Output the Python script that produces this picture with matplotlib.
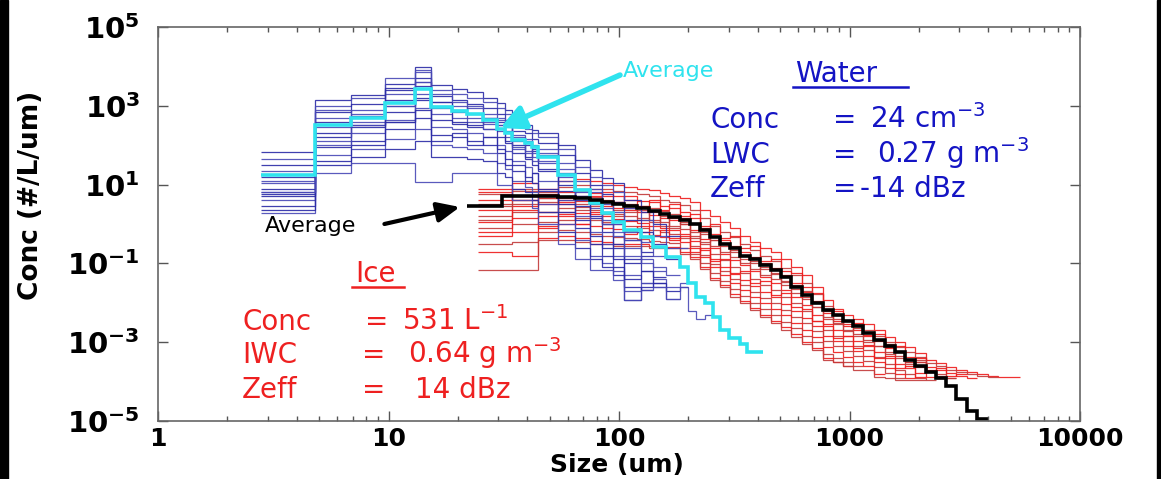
import numpy as np
import matplotlib
matplotlib.use("Agg")
import matplotlib.pyplot as plt
from matplotlib.ticker import FixedLocator, FuncFormatter, LogLocator, NullLocator, NullFormatter
from matplotlib.lines import Line2D
from matplotlib.patches import Rectangle

plt.rcParams['font.family'] = ['DejaVu Sans']
plt.rcParams['mathtext.fontset'] = 'dejavusans'

# ---------------- data (log10 of concentration, #/L/um) ----------------
# water (blue) size-bin edges, um
W_EDGES = [2.8, 4.8, 6.9, 9.7, 13.0, 15.3, 18.9, 21.9, 25.7, 29.5, 32.0, 34.5, 39.0,
           42.0, 44.5, 54.5, 64.5, 74.5, 84.5, 94.5, 105, 125, 140, 160, 184, 200,
           215, 235, 255, 275, 300, 335, 360, 422]
W_AVG = [1.25, 2.5, 2.68, 3.07, 3.43, 2.97, 2.86, 2.8, 2.64, 2.4, 2.3, 2.13, 2.05, 1.95,
         1.7, 1.24, 0.86, 0.53, 0.28, 0.05, -0.15, -0.33, -0.58, -0.83, -1.1, -1.5,
         -1.85, -2.0, -2.36, -2.69, -2.9, -3.05, -3.25]
W01 = [1.83, 3.15, 3.27, 3.55, 3.98, 3.53, 3.43, 3.35, 3.20, 3.07, 2.90, 2.56, 2.50, 2.38, 2.30, 2.00, 1.62, 1.37, 1.17, 1.03, 0.60, 0.30, 0.00, -0.30]
W02 = [1.65, 3.0, 3.2, 3.70, 3.85, 3.4, 3.3, 3.2, 3.1, 2.95, 2.8, 2.45, 2.4, 2.3, 2.2, 1.9, 1.45, 1.2, 1.0, 0.8, 0.4, 0.1, -0.3, -0.6, -0.6]
W03 = [1.5, 2.85, 3.05, 3.45, 3.7, 3.25, 3.15, 3.05, 2.95, 2.8, 2.65, 2.35, 2.3, 2.15, 2.05, 1.75, 1.3, 1.0, 0.75, 0.55, 0.1, -0.2, -0.5, -0.9]
W04 = [1.35, 2.7, 2.9, 3.3, 3.6, 3.1, 3.0, 2.95, 2.8, 2.65, 2.5, 2.25, 2.15, 2.0, 1.9, 1.55, 1.1, 0.8, 0.5, 0.3, -0.2, -0.45, -0.8]
W05 = [1.2, 2.6, 2.75, 3.15, 3.5, 2.95, 2.85, 2.8, 2.7, 2.5, 2.35, 2.1, 2.0, 1.85, 1.75, 1.3, 0.9, 0.6, 0.3, 0.1, -0.4, -0.7]
W06 = [1.05, 2.45, 2.6, 3.0, 3.3, 2.8, 2.7, 2.6, 2.55, 2.35, 2.2, 1.95, 1.85, 1.7, 1.55, 1.1, 0.7, 0.4, 0.1, -0.2, -0.6, -0.9, -1.1, -1.3]
W07 = [0.9, 2.3, 2.45, 2.85, 3.15, 2.65, 2.55, 2.45, 2.4, 2.2, 2.05, 1.8, 1.65, 1.5, 1.35, 0.85, 0.45, 0.15, -0.2, -0.5, -0.9, -1.2, -1.35]
W08 = [0.8, 2.1, 2.3, 2.65, 2.95, 2.45, 2.4, 2.3, 2.2, 2.0, 1.85, 1.6, 1.45, 1.3, 1.1, 0.6, 0.2, -0.2, -0.5, -0.8, -1.3, -1.5, -1.6, -1.9]
W09 = [0.75, 1.95, 2.1, 2.4, 2.7, 2.25, 2.2, 2.1, 2.0, 1.8, 1.65, 1.35, 1.2, 1.05, 0.85, 0.3, -0.1, -0.5, -0.8, -1.1, -1.6, -1.68]
W10 = [0.6, 1.75, 1.9, 2.15, 2.4, 2.0, 1.95, 1.9, 1.8, 1.55, 1.4, 1.1, 0.95, 0.8, 0.5, 0.0, -0.4, -0.8, -1.0, -1.2, -1.7, -1.5, -1.4, -1.6, -1.5]
W11 = [0.45, 1.5, 1.7, 1.9, 2.1, 1.7, 1.7, 1.65, 1.6, 1.3, 1.2, 0.9, 0.8, 0.6, 0.3, -0.2, -0.6, -0.9, -1.1, -1.3, -1.93, -1.6, -1.5, -1.7, -1.6]
W12 = [0.27, 1.29, 1.55, 1.55, 1.07, 1.07, 1.3, 1.3, 1.3, 0.99, 0.99, 0.6, 0.6, 0.4, 0.0, -0.5, -0.9, -1.17, -1.17, -1.42, -1.93, -1.68, -1.6, -1.9, -1.6, -2.2, -2.4, -2.3]
W13 = [0.7, 2.2, 2.5, 3.4, 3.2, 3.1, 2.6, 2.5, 2.7, 2.6, 2.1, 2.0, 1.7, 1.9, 1.4, 1.0, 0.6, 0.2, 0.0, -0.6, -1.0, -0.8]
W14 = [1.1, 2.9, 2.5, 2.6, 3.9, 3.3, 3.1, 2.7, 2.4, 2.7, 2.5, 2.2, 1.8, 1.6, 1.8, 1.4, 0.8, 0.9, 0.4, 0.0, -0.4, -1.0, -1.2]
W15 = [0.35, 1.6, 2.0, 2.6, 2.9, 2.1, 2.3, 2.0, 2.2, 1.9, 1.5, 1.5, 1.1, 1.3, 0.9, 0.5, 0.1, -0.3, -0.6, -0.9, -1.4, -1.2, -1.5]
W16 = [0.8, 2.0, 2.8, 3.0, 3.6, 3.0, 2.9, 3.0, 2.6, 2.5, 2.6, 1.9, 2.1, 1.8, 1.6, 1.2, 0.7, 0.5, 0.0, -0.3, -0.8]

# ice (red) size-bin edges, um
I_EDGES = [24.5, 34.5, 44.5, 54.5, 64.5, 74.5, 84.5, 94.5, 105, 120, 135, 150, 165, 184,
           204, 224, 248, 274, 302, 335, 370, 410, 455, 505, 560, 620, 690, 765, 850, 940,
           1040, 1150, 1280, 1420, 1570, 1740, 1930, 2140, 2370, 2630, 2910, 3230, 3580,
           3970, 4400, 4900, 5500]
I_AVG_EDGES = [21.9, 31.0, 44.5, 54.5, 64.5, 74.5, 84.5, 94.5, 105, 120, 135, 150, 165, 184,
               204, 224, 248, 274, 302, 335, 370, 410, 455, 505, 560, 620, 690, 765, 850, 940,
               1040, 1150, 1280, 1420, 1570, 1740, 1930, 2140, 2370, 2630, 2910, 3230, 3580, 3970]
I_AVG = [0.46, 0.72, 0.72, 0.69, 0.66, 0.6, 0.55, 0.5, 0.45, 0.4, 0.33, 0.26, 0.18, 0.1, 0.0,
         -0.15, -0.33, -0.5, -0.62, -0.8, -0.9, -1.05, -1.17, -1.35, -1.6, -1.8, -2.0, -2.18,
         -2.3, -2.45, -2.6, -2.77, -2.94, -3.1, -3.25, -3.45, -3.6, -3.75, -3.9, -4.1, -4.45,
         -4.75, -4.95]
I01 = [0.80, 1.04, 0.90, 1.10, 1.15, 1.10, 1.04, 1.00, 0.94, 0.90, 0.86, 0.78, 0.72, 0.65, 0.55, 0.36, 0.20, 0.05, -0.10, -0.30, -0.45, -0.60, -0.70, -0.90, -1.09, -1.30, -1.60, -1.93, -2.15, -2.30, -2.40, -2.55, -2.69, -2.87, -3.00, -3.12, -3.27, -3.45, -3.53, -3.63, -3.70, -3.75, -3.80, -3.85, -3.88, -3.88]
I02 = [0.75, 0.85, 0.8, 0.95, 1.0, 0.9, 0.9, 0.85, 0.8, 0.75, 0.7, 0.62, 0.55, 0.48, 0.35, 0.15, -0.05, -0.2, -0.32, -0.5, -0.65, -0.8, -0.93, -1.12, -1.3, -1.5, -1.78, -2.08, -2.3, -2.45, -2.55, -2.7, -2.83, -3.0, -3.12, -3.25, -3.38, -3.52, -3.6, -3.7, -3.75, -3.8, -3.85, -3.88]
I03 = [0.6, 0.7, 0.65, 0.8, 0.85, 0.78, 0.72, 0.7, 0.62, 0.58, 0.55, 0.45, 0.4, 0.3, 0.15, -0.05, -0.25, -0.4, -0.55, -0.7, -0.85, -1.0, -1.12, -1.3, -1.5, -1.72, -1.95, -2.25, -2.45, -2.6, -2.7, -2.82, -2.98, -3.12, -3.25, -3.38, -3.5, -3.62, -3.7, -3.78, -3.85, -3.9]
I04 = [0.5, 0.6, 0.55, 0.65, 0.72, 0.68, 0.6, 0.55, 0.5, 0.45, 0.4, 0.32, 0.25, 0.15, 0.0, -0.2, -0.4, -0.55, -0.72, -0.88, -1.0, -1.15, -1.28, -1.48, -1.65, -1.85, -2.1, -2.4, -2.55, -2.72, -2.85, -2.95, -3.1, -3.25, -3.4, -3.5, -3.62, -3.75, -3.85, -3.9]
I05 = [0.35, 0.45, 0.5, 0.55, 0.58, 0.5, 0.45, 0.4, 0.35, 0.3, 0.22, 0.15, 0.1, 0.0, -0.15, -0.38, -0.6, -0.75, -0.92, -1.05, -1.2, -1.35, -1.5, -1.68, -1.85, -2.05, -2.3, -2.55, -2.7, -2.85, -2.98, -3.08, -3.25, -3.4, -3.55, -3.65, -3.78, -3.88, -3.9]
I06 = [0.2, 0.3, 0.3, 0.4, 0.42, 0.35, 0.3, 0.25, 0.2, 0.15, 0.1, 0.05, -0.05, -0.12, -0.3, -0.5, -0.75, -0.92, -1.1, -1.25, -1.4, -1.55, -1.68, -1.85, -2.0, -2.2, -2.45, -2.7, -2.85, -2.98, -3.1, -3.2, -3.38, -3.55, -3.7, -3.8, -3.9, -3.95]
I07 = [0.05, 0.15, 0.2, 0.25, 0.28, 0.25, 0.2, 0.12, 0.08, 0.02, -0.05, -0.1, -0.15, -0.25, -0.42, -0.65, -0.9, -1.08, -1.28, -1.42, -1.58, -1.72, -1.85, -2.02, -2.2, -2.38, -2.6, -2.85, -2.98, -3.1, -3.22, -3.35, -3.5, -3.65, -3.8, -3.9]
I08 = [-0.1, 0.0, 0.05, 0.1, 0.15, 0.1, 0.05, 0.0, -0.05, -0.1, -0.15, -0.2, -0.25, -0.35, -0.55, -0.78, -1.02, -1.2, -1.4, -1.55, -1.72, -1.88, -2.0, -2.18, -2.35, -2.52, -2.72, -2.98, -3.1, -3.22, -3.35, -3.48, -3.62, -3.78, -3.9]
I09 = [-0.3, -0.2, -0.05, 0.0, 0.0, -0.05, -0.1, -0.12, -0.18, -0.2, -0.28, -0.32, -0.35, -0.45, -0.62, -0.85, -1.1, -1.3, -1.5, -1.68, -1.85, -2.0, -2.15, -2.32, -2.5, -2.68, -2.88, -3.12, -3.25, -3.38, -3.5, -3.6, -3.8]
I10 = [-0.5, -0.45, -0.2, -0.15, -0.2, -0.25, -0.3, -0.32, -0.35, -0.38, -0.42, -0.45, -0.48, -0.6, -0.75, -1.0, -1.25, -1.45, -1.65, -1.82, -2.0, -2.15, -2.3, -2.48, -2.65, -2.85, -3.0, -3.3, -3.4, -3.5, -3.6]
I11 = [-0.7, -0.8, -0.35, -0.3, -0.35, -0.42, -0.45, -0.5, -0.5, -0.52, -0.55, -0.58, -0.58, -0.7, -0.85, -1.1, -1.38, -1.55, -1.78, -1.95, -2.12, -2.3, -2.45, -2.62, -2.8, -3.0, -3.15, -3.4, -3.5, -3.6]
I12 = [-1.17, -1.17, -0.41, -0.41, -0.45, -0.5, -0.5, -0.55, -0.55, -0.55, -0.6, -0.6, -0.6, -0.75, -0.9, -1.15, -1.42, -1.6, -1.85, -2.0, -2.18, -2.35, -2.51, -2.7, -2.87, -3.05, -3.2, -3.45, -3.5, -3.6, -3.7, -3.7, -3.88, -3.9, -3.96, -3.96, -3.96]
I13 = [0.9, 0.6, 0.75, 0.5, 0.9, 0.7, 0.8, 0.55, 0.7, 0.45, 0.6, 0.35, 0.5, 0.2, 0.25, -0.1, 0.0, -0.35, -0.3, -0.6, -0.55, -0.95, -0.9, -1.2, -1.25, -1.6, -1.75, -2.15, -2.2, -2.55, -2.5, -2.85, -2.8, -3.15, -3.1, -3.45, -3.4, -3.7, -3.65, -3.85, -3.8]
I14 = [0.1, 0.5, 0.65, 0.3, 0.5, 0.55, 0.25, 0.35, 0.4, 0.1, 0.3, -0.05, 0.15, 0.0, -0.35, -0.25, -0.55, -0.5, -0.85, -0.8, -1.15, -1.1, -1.4, -1.45, -1.75, -1.7, -2.1, -2.2, -2.5, -2.45, -2.8, -2.75, -3.1, -3.05, -3.35, -3.5, -3.45, -3.75, -3.9]
I15 = [-0.2, 0.35, -0.1, 0.2, 0.0, 0.3, 0.0, 0.1, -0.25, -0.05, -0.3, -0.15, -0.4, -0.3, -0.7, -0.6, -0.95, -0.9, -1.25, -1.2, -1.5, -1.45, -1.8, -1.75, -2.1, -2.15, -2.45, -2.6, -2.9, -2.85, -3.15, -3.1, -3.4, -3.35, -3.65, -3.6, -3.88]
I16 = [0.45, 0.9, 0.3, 0.6, 0.35, 0.45, 0.55, 0.2, 0.3, 0.35, 0.05, 0.2, -0.1, 0.05, -0.2, -0.45, -0.4, -0.7, -0.65, -1.0, -0.95, -1.3, -1.25, -1.55, -1.55, -1.9, -2.0, -2.35, -2.4, -2.7, -2.65, -3.0, -2.95, -3.3, -3.25, -3.55, -3.5, -3.75, -3.8, -3.9]

WATER = [W01, W02, W03, W04, W05, W06, W07, W08, W09, W10, W11, W12, W13, W14, W15, W16]
ICE = [I01, I02, I03, I04, I05, I06, I07, I08, I09, I10, I11, I12, I13, I14, I15, I16]

X_TICKS = [1, 10, 100, 1000, 10000]
X_TICKLABELS = ['1', '10', '100', '1000', '10000']
Y_TICK_EXP = [-5, -3, -1, 1, 3, 5]

# ---------------- styling ----------------
W_PX, H_PX = 1161, 479
CYAN = '#2fe3ee'
BLUE_LINES = ['#2b2ba6', '#4848b6']
RED_LINES = ['#ee1c1c', '#c23a3a']
BLUE_TXT = '#1414c4'
RED_TXT = '#ee2020'

fig = plt.figure(figsize=(W_PX / 100, H_PX / 100), dpi=100)
fig.patch.set_facecolor('white')


def fx(px):
    return px / W_PX


def fy(py):
    return 1 - py / H_PX


ax = fig.add_axes([fx(158), fy(421), (1080 - 158) / W_PX, (421 - 27) / H_PX])
ax.set_xscale('log')
ax.set_yscale('log')

for i, v in enumerate(ICE):
    ax.stairs(10 ** np.array(v), I_EDGES[:len(v) + 1], baseline=None,
              color=RED_LINES[i % 2], lw=0.9, alpha=0.9)
for i, v in enumerate(WATER):
    ax.stairs(10 ** np.array(v), W_EDGES[:len(v) + 1], baseline=None,
              color=BLUE_LINES[i % 2], lw=0.9, alpha=0.9)
ax.stairs(10 ** np.array(W_AVG), W_EDGES, baseline=None, color=CYAN, lw=2.6)
ax.stairs(10 ** np.array(I_AVG), I_AVG_EDGES, baseline=None, color='black', lw=2.6)

ax.set_xlim(1, 1e4)
ax.set_ylim(1e-5, 1e5)
ax.xaxis.set_major_locator(FixedLocator(X_TICKS))
ax.xaxis.set_major_formatter(FuncFormatter(
    lambda v, p: X_TICKLABELS[X_TICKS.index(int(round(v)))] if int(round(v)) in X_TICKS else ''))
ax.xaxis.set_minor_locator(LogLocator(base=10, subs=np.arange(2, 10)))
ax.xaxis.set_minor_formatter(NullFormatter())
ax.yaxis.set_major_locator(FixedLocator([10.0 ** e for e in Y_TICK_EXP]))
ax.yaxis.set_major_formatter(FuncFormatter(lambda v, p: r'$\mathbf{10^{%d}}$' % int(round(np.log10(v)))))
ax.yaxis.set_minor_locator(NullLocator())

ax.tick_params(which='both', direction='in', top=True, right=True, colors='#555555',
               labelcolor='black')
ax.tick_params(which='major', length=7, width=1)
ax.tick_params(which='minor', length=3.5, width=1)
ax.tick_params(axis='x', pad=4, labelsize=18)
ax.tick_params(axis='y', pad=13, labelsize=21)
for lab in ax.get_xticklabels():
    lab.set_fontweight('bold')
for s in ax.spines.values():
    s.set_color('#666666')
    s.set_linewidth(1.2)

# axis labels
fig.text(fx(617), fy(472), 'Size (um)', fontsize=18, fontweight='bold', ha='center', va='baseline')
fig.text(fx(31), fy(195), 'Conc (#/L/um)', fontsize=19, fontweight='bold', rotation=90,
         ha='center', va='center')

# average annotations
fig.text(fx(623), fy(77), 'Average', color=CYAN, fontsize=16, va='baseline')
ax.annotate('', xy=(30.5, 273), xytext=(101, 10 ** 3.78),
            arrowprops=dict(arrowstyle='-|>,head_length=0.9,head_width=0.45', lw=4,
                            color=CYAN, shrinkA=0, shrinkB=0, mutation_scale=16))
fig.text(fx(265), fy(232), 'Average', color='black', fontsize=16, va='baseline')
ax.annotate('', xy=(20.4, 2.7), xytext=(9.6, 1.0),
            arrowprops=dict(arrowstyle='-|>,head_length=0.9,head_width=0.4', lw=3,
                            color='black', shrinkA=0, shrinkB=0, mutation_scale=15))

# water block
TS = 20
fig.text(fx(795), fy(82), 'Water', color=BLUE_TXT, fontsize=TS, va='baseline')
fig.add_artist(Line2D([fx(793), fx(908)], [fy(87), fy(87)], color=BLUE_TXT, lw=1.8))
for base, lab, eqx, valx, val in [(128, 'Conc', 833, 870, '24 cm$^{-3}$'),
                                  (163, 'LWC', 833, 877, '0.27 g m$^{-3}$'),
                                  (197, 'Zeff', 833, 860, '-14 dBz')]:
    fig.text(fx(710), fy(base), lab, color=BLUE_TXT, fontsize=TS, va='baseline')
    fig.text(fx(eqx), fy(base), '=', color=BLUE_TXT, fontsize=TS, va='baseline')
    fig.text(fx(valx), fy(base), val, color=BLUE_TXT, fontsize=TS, va='baseline')

# ice block
fig.text(fx(355), fy(282), 'Ice', color=RED_TXT, fontsize=TS, va='baseline')
fig.add_artist(Line2D([fx(352), fx(404)], [fy(287), fy(287)], color=RED_TXT, lw=1.8))
for base, lab, eqx, valx, val in [(330, 'Conc', 365, 402, '531 L$^{-1}$'),
                                  (363, 'IWC', 362, 408, '0.64 g m$^{-3}$'),
                                  (398, 'Zeff', 362, 415, '14 dBz')]:
    fig.text(fx(242), fy(base), lab, color=RED_TXT, fontsize=TS, va='baseline')
    fig.text(fx(eqx), fy(base), '=', color=RED_TXT, fontsize=TS, va='baseline')
    fig.text(fx(valx), fy(base), val, color=RED_TXT, fontsize=TS, va='baseline')

# black frame strips at the left and right edges
fig.patches.append(Rectangle((0, 0), fx(8), 1, transform=fig.transFigure, color='black', zorder=10))
fig.patches.append(Rectangle((fx(1157), 0), fx(4), 1, transform=fig.transFigure, color='black', zorder=10))

fig.savefig('out.png', dpi=100, facecolor='white')
